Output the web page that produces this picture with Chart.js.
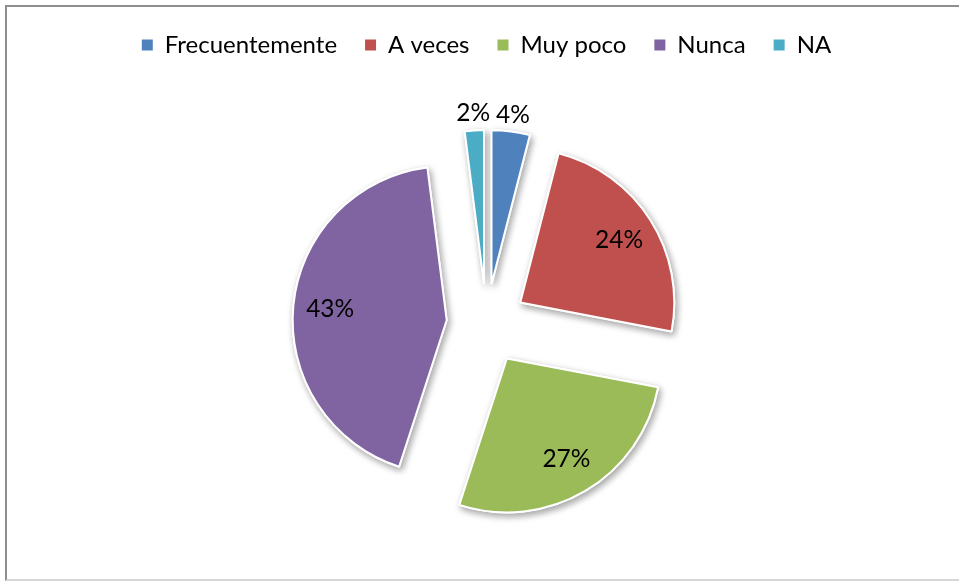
<!DOCTYPE html>
<html>
<head>
<meta charset="utf-8">
<script src="https://cdn.jsdelivr.net/npm/chart.js@4.4.0/dist/chart.umd.min.js"></script>
<style>
  html, body { margin: 0; padding: 0; background: #fff; }
  #wrap { position: relative; width: 959px; height: 581px; overflow: hidden; }
  #frame {
    position: absolute; left: 5px; top: 5px; width: 1000px; height: 572px;
    border: 2px solid #8e8e8e; border-bottom-color: #d6d6d6;
    pointer-events: none;
  }
</style>
</head>
<body>
<div id="wrap">
  <canvas id="chart" width="959" height="581"></canvas>
  <div id="frame"></div>
</div>
<script>
const categories = ["Frecuentemente", "A veces", "Muy poco", "Nunca", "NA"];
const percentages = [4, 24, 27, 43, 2];
const sliceColors = ["#4F81BD", "#C0504D", "#9BBB59", "#8064A2", "#4BACC6"];

const FONT = "Lato, 'Open Sans', sans-serif";
const EXPLODE = 40; // how far every slice is pulled out of the centre

// Chart.js' own "offset" also grows the radius of thin slices, so the
// slices are drawn here with a plain translate along their mid angle instead.
const explodePlugin = {
  id: "explode",
  beforeDatasetDraw(chart, args) {
    const ctx = chart.ctx;
    const arcs = args.meta.data;
    // first pass with a soft shadow, second pass clean on top
    [true, false].forEach((withShadow) => {
      arcs.forEach((arc) => {
        const mid = (arc.startAngle + arc.endAngle) / 2;
        ctx.save();
        ctx.translate(Math.cos(mid) * EXPLODE, Math.sin(mid) * EXPLODE);
        if (withShadow) {
          ctx.shadowColor = "rgba(0, 0, 0, 0.35)";
          ctx.shadowBlur = 7;
          ctx.shadowOffsetX = 2;
          ctx.shadowOffsetY = 3;
        }
        arc.draw(ctx);
        ctx.restore();
      });
    });
    return false;
  }
};

// percentage labels: inside the big slices, just outside the small ones
const labelPlugin = {
  id: "sliceLabels",
  afterDatasetsDraw(chart) {
    const ctx = chart.ctx;
    const meta = chart.getDatasetMeta(0);
    ctx.save();
    ctx.font = "24.5px " + FONT;
    ctx.fillStyle = "#000";
    ctx.textAlign = "center";
    ctx.textBaseline = "middle";
    meta.data.forEach((arc, i) => {
      const mid = (arc.startAngle + arc.endAngle) / 2;
      const r = percentages[i] < 5
        ? arc.outerRadius + 17 + EXPLODE
        : arc.outerRadius * 0.76 + EXPLODE;
      ctx.fillText(percentages[i] + "%", arc.x + Math.cos(mid) * r, arc.y + Math.sin(mid) * r);
    });
    ctx.restore();
  }
};

new Chart(document.getElementById("chart"), {
  type: "pie",
  data: {
    labels: categories,
    datasets: [{
      data: percentages,
      backgroundColor: sliceColors,
      borderColor: "#ffffff",
      borderWidth: 2,
    }],
  },
  options: {
    responsive: false,
    animation: false,
    radius: 154,
    layout: {
      padding: { top: 5, bottom: -10, left: 14, right: 0 },
    },
    plugins: {
      tooltip: { enabled: false },
      legend: {
        position: "top",
        labels: {
          boxWidth: 11,
          boxHeight: 11,
          padding: 28,
          color: "#000",
          font: { family: FONT, size: 24 },
          // plain squares, without the white slice border
          generateLabels: (chart) =>
            Chart.overrides.pie.plugins.legend.labels
              .generateLabels(chart)
              .map((item) => ({ ...item, lineWidth: 0 })),
        },
      },
    },
  },
  plugins: [explodePlugin, labelPlugin],
});
</script>
</body>
</html>
